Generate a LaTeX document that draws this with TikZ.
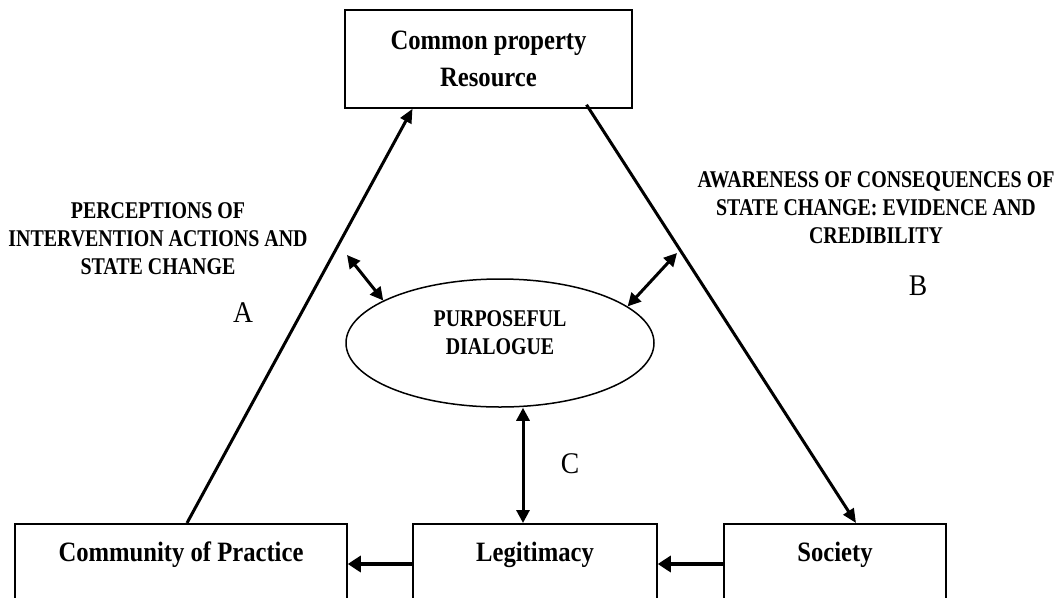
\documentclass[tikz,border=0pt]{standalone}
\usepackage{fontspec}
\setmainfont{Liberation Serif}
\newfontfamily\boxfont[FakeStretch=0.88]{Liberation Serif}
\newfontfamily\labfont[FakeStretch=0.83]{Liberation Serif}
\newfontfamily\letfont[FakeStretch=0.92]{Liberation Serif}
\usetikzlibrary{shapes.geometric,arrows.meta}
\begin{document}
\begin{tikzpicture}[x=1pt,y=-1pt,
  boxnode/.style={draw,line width=1.5pt,rectangle,inner sep=0pt,align=center,
     font=\boxfont\bfseries\fontsize{28}{37}\selectfont},
  lowbox/.style={boxnode,anchor=north,text height=38pt,text depth=80pt},
  label/.style={align=center,inner sep=0pt,font=\labfont\bfseries\fontsize{24}{28}\selectfont},
  letter/.style={inner sep=0pt,font=\letfont\fontsize{30}{30}\selectfont},
  mainline/.style={line width=3pt,-{Triangle[length=14pt,width=12pt]}},
  dbl/.style={line width=3pt,{Triangle[length=13pt,width=13pt]}-{Triangle[length=13pt,width=13pt]}},
  flow/.style={line width=4.5pt,-{Triangle[length=13pt,width=16pt]}}
]
\useasboundingbox (0,0) rectangle (1056,597);
\clip (0,0) rectangle (1056,597);
\node[boxnode,minimum width=287pt,minimum height=98pt] (cpr) at (488.5,59) {Common property\\Resource};
\node[lowbox,minimum width=332pt] (cop) at (181,523) {Community of Practice};
\node[lowbox,minimum width=244pt] (leg) at (535,523) {Legitimacy};
\node[lowbox,minimum width=222pt] (soc) at (835,523) {Society};
\node[ellipse,draw,line width=1.5pt,minimum width=308pt,minimum height=128pt,inner sep=0pt] (pd) at (500,343) {};
\node[label,yshift=10pt] (pdt) at (pd.center) {PURPOSEFUL\\DIALOGUE};
\node[label] (la) at (158,239) {PERCEPTIONS OF\\INTERVENTION ACTIONS AND\\STATE CHANGE};
\node[label] (lb) at (876,208) {AWARENESS OF CONSEQUENCES OF\\STATE CHANGE: EVIDENCE AND\\CREDIBILITY};
\node[letter] (A) at (243,313) {A};
\node[letter] (B) at (918,286) {B};
\node[letter] (C) at (570,464) {C};
\coordinate (l1) at (347,255);
\coordinate (r1) at (677,253);
\coordinate (vt) at ([xshift=-12pt]leg.north);
\draw[mainline] ([xshift=6pt]cop.north) -- ([xshift=-76pt]cpr.south);
\draw[mainline] ([xshift=98pt,yshift=4pt]cpr.south) -- ([xshift=21pt]soc.north);
\draw[dbl] (l1) -- (pd.{160});
\draw[dbl] (r1) -- (pd.{16});
\draw[dbl] (vt) -- (pd.south -| vt);
\draw[flow] ([yshift=-41pt]leg.north west) -- ([yshift=-41pt]cop.north east);
\draw[flow] ([yshift=-41pt]soc.north west) -- ([yshift=-41pt]leg.north east);
\end{tikzpicture}
\end{document}
